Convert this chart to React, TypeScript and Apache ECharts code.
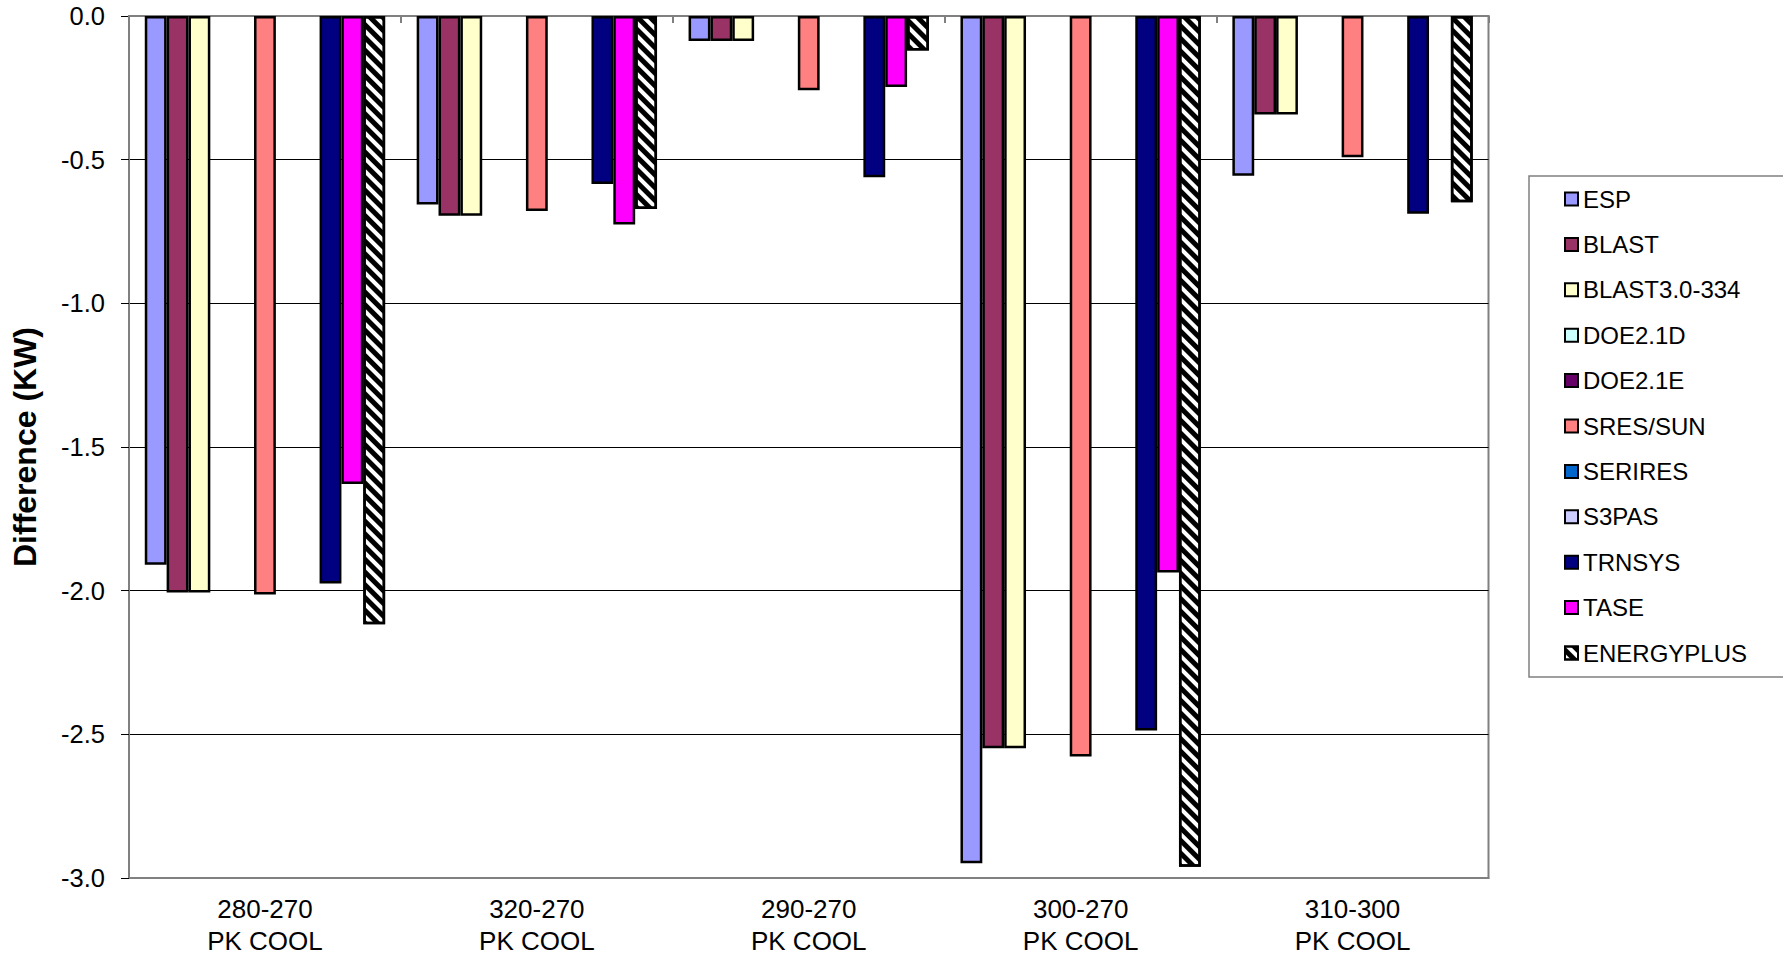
import React, { useEffect, useRef } from "react";
import * as echarts from "echarts";

const categories = ["280-270\nPK COOL", "320-270\nPK COOL", "290-270\nPK COOL", "300-270\nPK COOL", "310-300\nPK COOL"];
const seriesNames = ["ESP", "BLAST", "BLAST3.0-334", "DOE2.1D", "DOE2.1E", "SRES/SUN", "SERIRES", "S3PAS", "TRNSYS", "TASE", "ENERGYPLUS"];
const seriesColors = ["#9999FF", "#993366", "#FFFFCC", "#CCFFFF", "#660066", "#FF8080", "#0066CC", "#CCCCFF", "#000080", "#FF00FF", "#FFFFFF"];

const espValues = [-1.91, -0.656, -0.087, -2.949, -0.556];
const blastValues = [-2.006, -0.695, -0.087, -2.548, -0.343];
const blast3Values = [-2.006, -0.695, -0.087, -2.548, -0.343];
const doe21dValues = [null, null, null, null, null];
const doe21eValues = [null, null, null, null, null];
const sresValues = [-2.013, -0.679, -0.258, -2.577, -0.492];
const seriresValues = [null, null, null, null, null];
const s3pasValues = [null, null, null, null, null];
const trnsysValues = [-1.975, -0.585, -0.561, -2.487, -0.688];
const taseValues = [-1.629, -0.726, -0.247, -1.937, null];
const energyplusValues = [-2.117, -0.672, -0.12, -2.961, -0.648];

const allValues = [espValues, blastValues, blast3Values, doe21dValues, doe21eValues, sresValues, seriresValues, s3pasValues, trnsysValues, taseValues, energyplusValues];

const FONT = "'Liberation Sans', Arial, sans-serif";

export default function App() {
  const ref = useRef<HTMLDivElement>(null);
  useEffect(() => {
    document.body.style.margin = "0";
    const chart = echarts.init(ref.current!, null, { renderer: "svg" });
    const series = seriesNames.map((name, i) => {
      const isEP = name === "ENERGYPLUS";
      return {
        name,
        type: "bar",
        data: allValues[i],
        barGap: "0%",
        barCategoryGap: "11.6%",
        itemStyle: {
          color: seriesColors[i],
          borderColor: "#000000",
          borderWidth: 2.5,
          ...(isEP
            ? {
                decal: {
                  symbol: "rect",
                  symbolSize: 1,
                  dashArrayX: [1, 0],
                  dashArrayY: [4.5, 4],
                  rotation: Math.PI / 4,
                  color: "#000000",
                },
              }
            : {}),
        },
      };
    });
    chart.setOption({
      animation: false,
      backgroundColor: "#ffffff",
      textStyle: { fontFamily: FONT },
      grid: {
        left: 129,
        top: 16,
        width: 1359.5,
        height: 862,
        show: true,
        borderColor: "#808080",
        borderWidth: 2,
        containLabel: false,
      },
      legend: {
        orient: "vertical",
        left: 1529,
        top: 176,
        padding: [11, 80, 12, 35],
        icon: "rect",
        itemWidth: 13,
        itemHeight: 13,
        itemGap: 21.4,
        borderColor: "#808080",
        borderWidth: 1.5,
        backgroundColor: "#ffffff",
        textStyle: { fontFamily: FONT, fontSize: 24, color: "#000000", lineHeight: 24 },
        data: seriesNames,
      },
      xAxis: [
        {
          type: "category",
          data: categories,
          position: "bottom",
          axisLine: { onZero: false, lineStyle: { color: "#808080", width: 2 } },
          axisTick: { show: false },
          axisLabel: {
            margin: 15,
            fontFamily: FONT,
            fontSize: 26,
            lineHeight: 32,
            color: "#000000",
            interval: 0,
          },
        },
        {
          type: "category",
          data: categories,
          position: "top",
          axisLine: { onZero: false, lineStyle: { color: "#808080", width: 2 } },
          axisTick: { show: true, inside: true, length: 7, lineStyle: { color: "#808080", width: 2 } },
          axisLabel: { show: false },
        },
      ],
      yAxis: {
        type: "value",
        min: -3,
        max: 0,
        interval: 0.5,
        name: "Difference (KW)",
        nameLocation: "middle",
        nameGap: 88,
        nameRotate: 90,
        nameTextStyle: { fontFamily: FONT, fontSize: 32, fontWeight: "bold", color: "#000000" },
        axisLine: { show: true, lineStyle: { color: "#808080", width: 2 } },
        axisTick: { show: true, length: 8, lineStyle: { color: "#000000", width: 1 } },
        axisLabel: {
          margin: 24,
          fontFamily: FONT,
          fontSize: 25.5,
          color: "#000000",
          formatter: (v: number) => v.toFixed(1),
        },
        splitLine: {
          show: true,
          lineStyle: {
            color: ["rgba(0,0,0,0)", "#000000", "#000000", "#000000", "#000000", "#000000", "rgba(0,0,0,0)"],
            width: 1,
          },
        },
      },
      series,
    });
    return () => chart.dispose();
  }, []);
  return <div ref={ref} style={{ position: "absolute", left: 0, top: 0, width: 1783, height: 957 }} />;
}
